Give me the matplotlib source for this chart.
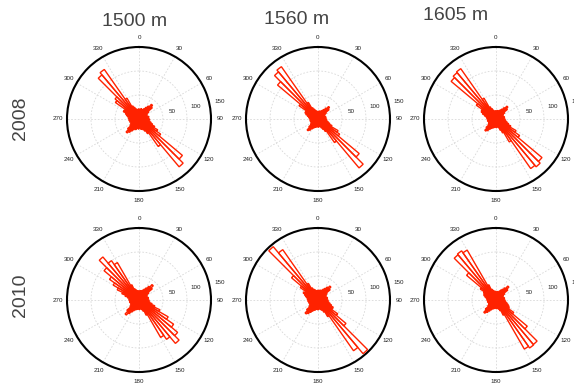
import numpy as np
import matplotlib.pyplot as plt

# bin centres, 5 degree bins clockwise from north
bin_start = np.arange(0, 360, 5)

# counts per bin, one list per panel (72 values each)
c2008_1500 = [20, 18, 22, 19, 21, 24, 28, 33, 40, 36, 25, 20,
              18, 17, 19, 21, 18, 20, 22, 19, 23, 26, 30, 36,
              45, 55, 118, 130, 70, 35, 28, 24, 20, 22, 18, 19,
              21, 18, 20, 23, 22, 25, 29, 34, 38, 31, 23, 20,
              19, 17, 20, 18, 21, 19, 22, 20, 24, 27, 30, 36,
              35, 60, 65, 120, 126, 50, 30, 26, 22, 20, 19, 21]
c2008_1560 = [16, 15, 17, 16, 18, 20, 23, 28, 34, 30, 21, 17,
              15, 14, 16, 17, 15, 16, 18, 17, 19, 22, 26, 32,
              48, 55, 112, 133, 60, 30, 24, 20, 17, 16, 15, 17,
              16, 15, 17, 18, 19, 21, 24, 29, 32, 25, 19, 17,
              16, 15, 16, 17, 15, 16, 18, 17, 20, 23, 27, 30,
              30, 48, 110, 128, 133, 40, 26, 22, 19, 17, 16, 15]
c2008_1605 = [17, 16, 18, 17, 19, 21, 24, 29, 35, 31, 22, 18,
              16, 15, 17, 18, 16, 17, 19, 18, 21, 24, 28, 34,
              48, 60, 125, 130, 126, 55, 32, 25, 19, 17, 16, 18,
              17, 16, 18, 19, 20, 22, 25, 30, 33, 27, 20, 18,
              17, 16, 17, 18, 16, 17, 19, 18, 21, 25, 30, 34,
              35, 50, 122, 126, 128, 50, 28, 23, 19, 17, 16, 17]
c2010_1500 = [19, 18, 20, 19, 22, 25, 29, 35, 42, 36, 25, 20,
              18, 17, 19, 20, 18, 19, 21, 20, 23, 28, 35, 48,
              70, 88, 105, 118, 100, 90, 35, 25, 21, 19, 18, 20,
              19, 18, 20, 21, 22, 25, 29, 35, 41, 33, 23, 20,
              19, 18, 19, 20, 18, 20, 21, 20, 24, 30, 38, 50,
              62, 75, 95, 117, 100, 90, 35, 25, 22, 20, 18, 19]
c2010_1560 = [20, 19, 21, 20, 22, 25, 28, 33, 38, 33, 23, 20,
              18, 17, 19, 20, 18, 19, 21, 20, 23, 26, 30, 35,
              35, 50, 76, 146, 129, 40, 28, 23, 21, 19, 18, 20,
              20, 19, 20, 22, 23, 26, 30, 35, 38, 31, 23, 20,
              19, 18, 20, 19, 21, 20, 22, 21, 24, 27, 30, 34,
              30, 45, 72, 145, 128, 40, 28, 24, 22, 20, 19, 20]
c2010_1605 = [17, 16, 18, 17, 20, 23, 26, 31, 38, 32, 22, 18,
              16, 15, 17, 18, 16, 17, 19, 18, 21, 24, 27, 30,
              32, 45, 85, 121, 122, 118, 35, 24, 20, 18, 17, 18,
              17, 16, 18, 19, 20, 23, 27, 32, 36, 29, 21, 18,
              17, 16, 17, 18, 16, 18, 19, 18, 21, 24, 27, 28,
              30, 40, 80, 123, 125, 120, 35, 24, 21, 19, 17, 18]

depths = ['1500 m', '1560 m', '1605 m']
years = ['2008', '2010']
panels = [[c2008_1500, c2008_1560, c2008_1605],
          [c2010_1500, c2010_1560, c2010_1605]]
r_ticks = [50, 100, 150]
theta_ticks = list(range(0, 360, 30))

W, H = 574, 383
fig = plt.figure(figsize=(W / 100, H / 100), dpi=100)
plt.rcParams['font.family'] = ['Liberation Sans', 'DejaVu Sans']

cx = [139, 318, 496]
cy = [119, 300]
R = 72

for i in range(2):
    for j in range(3):
        ax = fig.add_axes([(cx[j] - R) / W, (H - cy[i] - R) / H, 2 * R / W, 2 * R / H],
                          projection='polar')
        ax.set_theta_zero_location('N')
        ax.set_theta_direction(-1)
        counts = panels[i][j]
        ax.bar(np.deg2rad(bin_start + 2.5), counts, width=np.deg2rad(5), bottom=0,
               fill=False, edgecolor='#ff2200', linewidth=1.0, zorder=3)
        ax.set_ylim(0, 150)
        ax.set_yticks(r_ticks)
        ax.set_yticklabels([])
        ax.set_xticks(np.deg2rad(theta_ticks))
        ax.set_xticklabels([str(t) for t in theta_ticks], fontsize=4.5, color='#222222')
        ax.tick_params(axis='x', pad=-4)
        ax.grid(True, color='#d8d8d8', linestyle=(0, (2, 2)), linewidth=0.6)
        ax.spines['polar'].set_linewidth(1.5)
        ax.spines['polar'].set_color('black')
        ax.set_facecolor('none')
        for v in r_ticks:
            ax.text(np.deg2rad(78), v + 21, str(v), fontsize=4.5, color='#222222',
                    ha='center', va='center', clip_on=False)

# column titles and row labels
title_xy = [(135, 21), (297, 19), (456, 16)]
for (x, y), d in zip(title_xy, depths):
    fig.text(x / W, 1 - y / H, d, fontsize=14, color='#444444', ha='center', va='center')
for y, yr in zip([118, 295], years):
    fig.text(21 / W, 1 - y / H, yr, fontsize=14, color='#444444', rotation=90,
             ha='center', va='center')

fig.savefig('out.png', dpi=100)
